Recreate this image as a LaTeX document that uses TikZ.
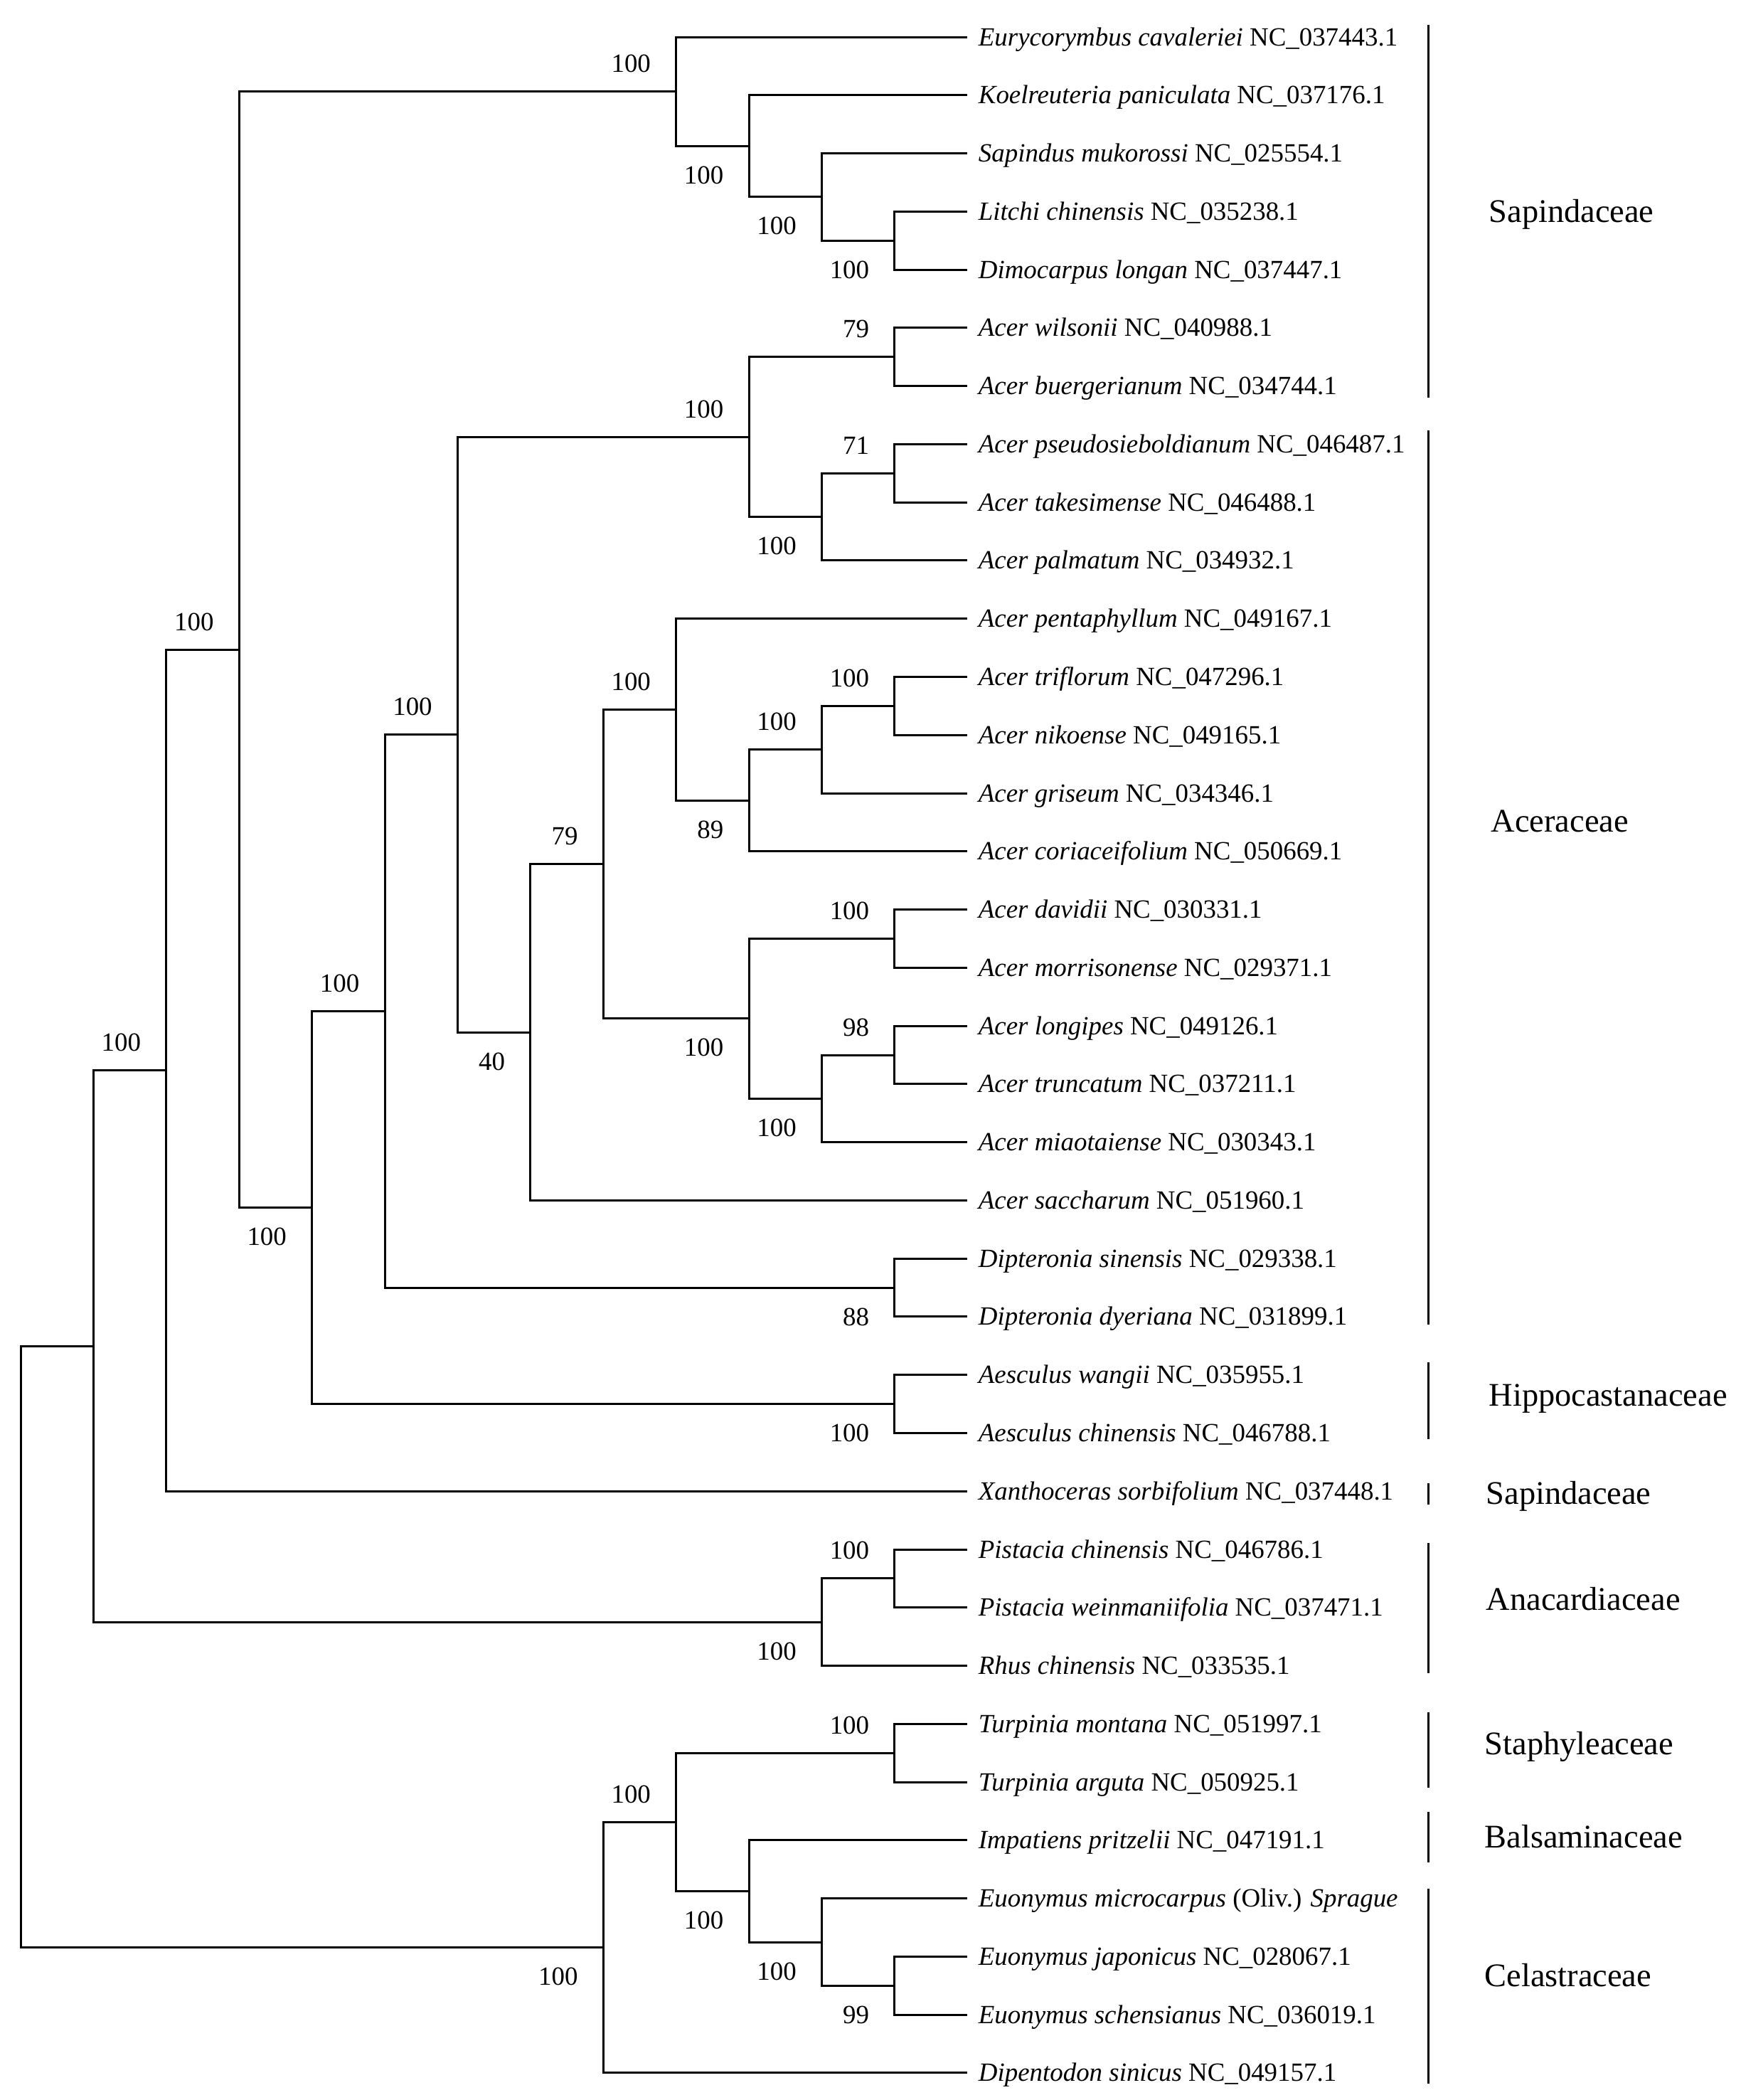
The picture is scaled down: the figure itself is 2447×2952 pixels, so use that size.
\documentclass[tikz,border=0pt]{standalone}
\usepackage{fontspec}
\setmainfont{Liberation Serif}
\usetikzlibrary{calc}
\newcommand\lvX[1]{29+102.4*(#1)}
\newcommand\ixY[1]{52+81.77*(#1)}
\begin{document}
\begin{tikzpicture}[x=0.1mm,y=-0.1mm,
  br/.style={line width=0.3mm, line join=miter},
  brk/.style={line width=0.3mm},
  leaf/.style={anchor=base west, inner sep=0pt, font=\fontsize{10.5}{12}\selectfont},
  bs/.style={anchor=base east, inner sep=0pt, font=\fontsize{10.5}{12}\selectfont},
  fam/.style={anchor=base west, inner sep=0pt, font=\fontsize{13.2}{15}\selectfont}]
\fill[white] (0,0) rectangle (2447,2952);
\useasboundingbox (0,0) rectangle (2447,2952);

% leaves
\foreach \i/\sp/\acc in {
 0/Eurycorymbus cavaleriei/NC\_037443.1,
 1/Koelreuteria paniculata/NC\_037176.1,
 2/Sapindus mukorossi/NC\_025554.1,
 3/Litchi chinensis/NC\_035238.1,
 4/Dimocarpus longan/NC\_037447.1,
 5/Acer wilsonii/NC\_040988.1,
 6/Acer buergerianum/NC\_034744.1,
 7/Acer pseudosieboldianum/NC\_046487.1,
 8/Acer takesimense/NC\_046488.1,
 9/Acer palmatum/NC\_034932.1,
 10/Acer pentaphyllum/NC\_049167.1,
 11/Acer triflorum/NC\_047296.1,
 12/Acer nikoense/NC\_049165.1,
 13/Acer griseum/NC\_034346.1,
 14/Acer coriaceifolium/NC\_050669.1,
 15/Acer davidii/NC\_030331.1,
 16/Acer morrisonense/NC\_029371.1,
 17/Acer longipes/NC\_049126.1,
 18/Acer truncatum/NC\_037211.1,
 19/Acer miaotaiense/NC\_030343.1,
 20/Acer saccharum/NC\_051960.1,
 21/Dipteronia sinensis/NC\_029338.1,
 22/Dipteronia dyeriana/NC\_031899.1,
 23/Aesculus wangii/NC\_035955.1,
 24/Aesculus chinensis/NC\_046788.1,
 25/Xanthoceras sorbifolium/NC\_037448.1,
 26/Pistacia chinensis/NC\_046786.1,
 27/Pistacia weinmaniifolia/NC\_037471.1,
 28/Rhus chinensis/NC\_033535.1,
 29/Turpinia montana/NC\_051997.1,
 30/Turpinia arguta/NC\_050925.1,
 31/Impatiens pritzelii/NC\_047191.1,
 32/Euonymus microcarpus/(Oliv.) \textit{Sprague},
 33/Euonymus japonicus/NC\_028067.1,
 34/Euonymus schensianus/NC\_036019.1,
 35/Dipentodon sinicus/NC\_049157.1}{
  \coordinate (t\i) at ({\lvX{13}},{\ixY{\i}});
  \node[leaf] (n\i) at ($(t\i)+(15,12)$) {\textit{\sp} \acc};
}

% internal nodes
\foreach \n/\l/\t in {
 root/0/27.67566, A/1/22.507568, B/2/17.765137, C/3/10.530273,
 I/4/20.123047, J/5/16.746094, K/6/11.992188, M/7/17.109375,
 Q/8/14.21875, R/9/11.5625, T/10/13.125, U/11/12.25, V/12/11.5,
 S/10/16.875, W/12/15.5, X/11/18.25, Y/12/17.5,
 L/10/6.875, N/12/5.5, O/11/8.25, P/12/7.5,
 D/9/0.9375, E/10/1.875, F/11/2.75, G/12/3.5,
 DIP/12/21.5, AES/12/23.5, Z/11/27.25, AA/12/26.5,
 CC/8/32.84375, DD/9/30.6875, EE/12/29.5, FF/10/31.875, GG/11/32.75, HH/12/33.5}{
  \coordinate (\n) at ({\lvX{\l}},{\ixY{\t}});
}

% branches
\foreach \c/\p in {
 t0/D, t1/E, t2/F, t3/G, t4/G,
 t5/N, t6/N, t7/P, t8/P, t9/O,
 t10/R, t11/V, t12/V, t13/U, t14/T,
 t15/W, t16/W, t17/Y, t18/Y, t19/X,
 t20/M, t21/DIP, t22/DIP, t23/AES, t24/AES,
 t25/B, t26/AA, t27/AA, t28/Z,
 t29/EE, t30/EE, t31/FF, t32/GG, t33/HH, t34/HH, t35/CC,
 G/F, F/E, E/D, D/C,
 N/L, P/O, O/L, L/K,
 V/U, U/T, T/R, R/Q, W/S, Y/X, X/S, S/Q, Q/M, M/K, K/J, DIP/J, J/I, AES/I, I/C, C/B, B/A, AA/Z, Z/A, A/root,
 EE/DD, HH/GG, GG/FF, FF/DD, DD/CC, CC/root}{
  \draw[br] (\c) -| (\p);
}

% support values
\foreach \n/\s/\d in {
 D/100/-27, E/100/53, F/100/53, G/100/53,
 N/79/-27, L/100/-27, P/71/-27, O/100/53,
 R/100/-27, V/100/-27, U/100/-27, T/89/53, Q/79/-27, W/100/-27, S/100/53,
 Y/98/-27, X/100/53, M/40/53, K/100/-27, J/100/-27, C/100/-27, I/100/53,
 DIP/88/53, AES/100/53, B/100/-27, AA/100/-27, Z/100/53,
 EE/100/-27, DD/100/-27, FF/100/53, GG/100/53, HH/99/53, CC/100/53}{
  \node[bs] (lab\n) at ($(\n)+(-35,\d)$) {\s};
}

% family brackets
\foreach \k/\a/\b in {1/35/559, 2/605/1862, 3/1915/2023, 4/2085/2115,
  5/2169/2352, 6/2407/2513, 7/2547/2618, 8/2655/2929}{
  \coordinate (bt\k) at (2008,\a);
  \coordinate (bb\k) at (2008,\b);
  \draw[brk] (bt\k) -- (bb\k);
}

% family labels
\node[fam] (f1) at (2093,312) {Sapindaceae};
\node[fam] (f2) at (2096,1169) {Aceraceae};
\node[fam] (f3) at (2093,1976) {Hippocastanaceae};
\node[fam] (f4) at (2089,2114) {Sapindaceae};
\node[fam] (f5) at (2089,2263) {Anacardiaceae};
\node[fam] (f6) at (2087,2466) {Staphyleaceae};
\node[fam] (f7) at (2087,2597) {Balsaminaceae};
\node[fam] (f8) at (2087,2792) {Celastraceae};
\end{tikzpicture}
\end{document}
